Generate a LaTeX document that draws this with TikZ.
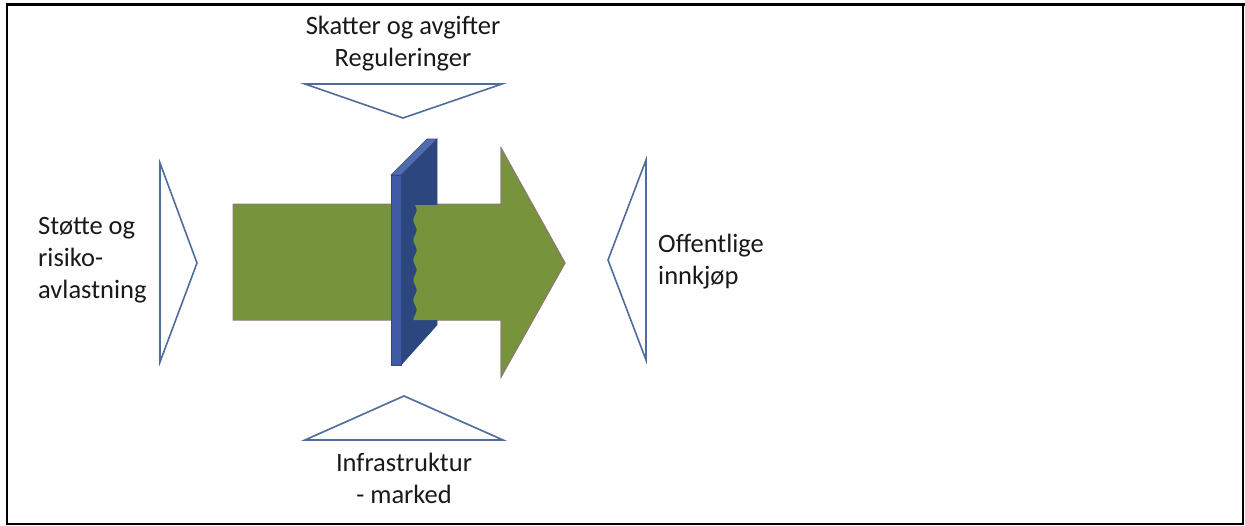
\documentclass[tikz,border=0pt]{standalone}
\usepackage{fontspec}
\setmainfont{Carlito}
\usetikzlibrary{positioning}
\definecolor{olivegreen}{RGB}{119,147,60}
\definecolor{arrowedge}{RGB}{140,123,112}
\definecolor{plateblue}{RGB}{64,90,166}
\definecolor{plateside}{RGB}{44,70,128}
\definecolor{triblue}{RGB}{79,109,154}

\begin{document}
\begin{tikzpicture}[x=1pt,y=-1pt,
  tri/.style={draw=triblue,line width=1.6pt,fill=white,line join=miter},
  lbl/.style={font=\fontsize{26.5}{32}\selectfont,text=black!90,inner sep=0pt}]
  \useasboundingbox (0,0) rectangle (1245,525);
  % frame
  \draw[line width=3pt] (7,4) -- (1245,4);
  \draw[line width=2pt] (7,3) -- (7,525);
  \draw[line width=2pt] (1243,3) -- (1243,525);
  \draw[line width=2pt] (7,524) -- (1243,524);
  % triangles
  \draw[tri] (305,84) -- (502,84) -- (403,118) -- cycle;
  \draw[tri] (305,440) -- (503,440) -- (404,396) -- cycle;
  \draw[tri] (160,163) -- (197,263) -- (160,362) -- cycle;
  \draw[tri] (646,160) -- (608,260) -- (646,360) -- cycle;
  % big arrow
  \fill[olivegreen,draw=arrowedge,line width=1pt] (233,204) -- (501,204) -- (501,148)
    -- (565,263) -- (501,377) -- (501,320) -- (233,320) -- cycle;
  % plate
  \fill[plateside,draw=plateblue!80!black,line width=0.6pt] (401,175) -- (437,139) -- (437,325) -- (401,365) -- cycle;
  \fill[plateblue!90!white,draw=plateblue!80!black,line width=0.6pt] (391,175) -- (427,139) -- (437,139) -- (401,175) -- cycle;
  \fill[plateblue,draw=plateblue!80!black,line width=0.6pt] (391,175) rectangle (401,365);
  % arrow part behind the plate
  \fill[olivegreen] plot[domain=205:320,samples=80,smooth] ({415+1.6*sin(18*(\x-205))},\x)
    -- (501,320) -- (501,377) -- (565,263) -- (501,148) -- (501,205) -- cycle;
  \draw[arrowedge,line width=1pt] (501,320) -- (501,377) -- (565,263) -- (501,148) -- (501,205);
  % labels
  \node[lbl,align=center] (skatt) at (403,44) {Skatter og avgifter\\Reguleringer};
  \node[lbl,align=center] (infra) at (404,478) {Infrastruktur\\- marked};
  \node[lbl,align=left,anchor=west] (stotte) at (38,260) {Støtte og\\risiko-\\avlastning};
  \node[lbl,align=left,anchor=west] (offentlig) at (658,262) {Offentlige\\innkjøp};
\end{tikzpicture}
\end{document}
